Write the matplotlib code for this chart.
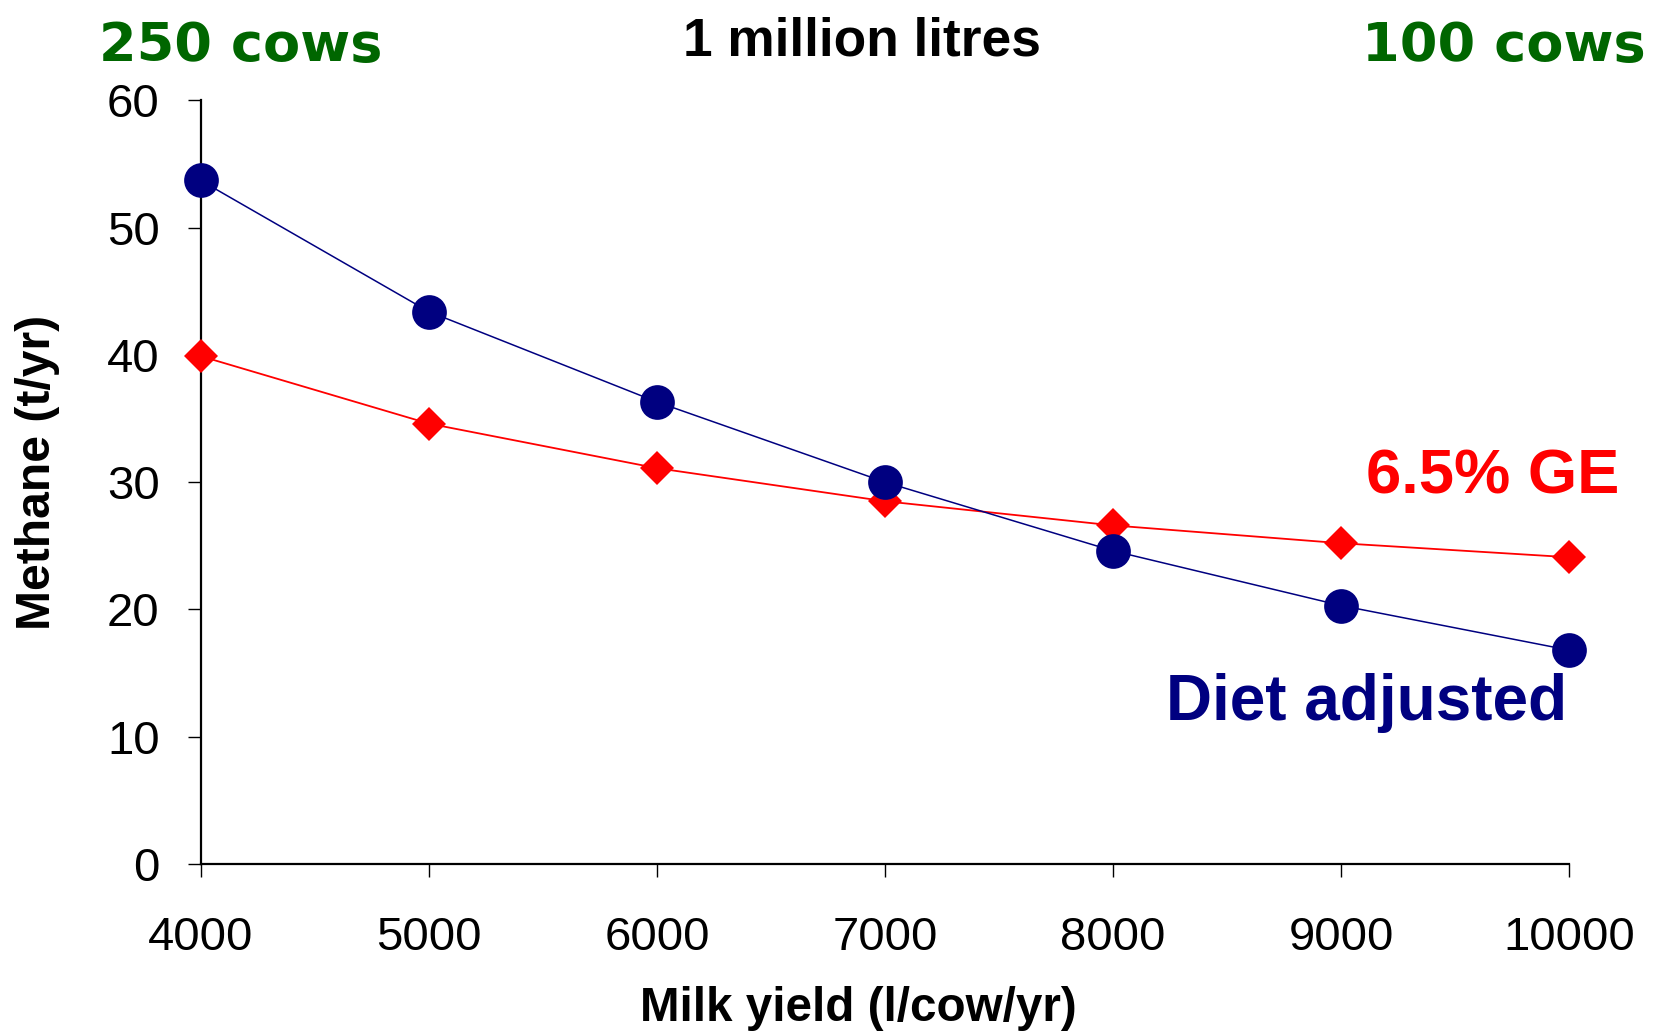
import matplotlib
matplotlib.use("Agg")
import matplotlib.pyplot as plt

milk_yield = [4000, 5000, 6000, 7000, 8000, 9000, 10000]
diet_adjusted = [53.7, 43.4, 36.3, 30.0, 24.6, 20.3, 16.8]
ge_65 = [39.9, 34.6, 31.1, 28.5, 26.6, 25.2, 24.1]
y_ticks = [0, 10, 20, 30, 40, 50, 60]

plt.rcParams['font.family'] = ['Liberation Sans', 'DejaVu Sans']

W, H = 1656, 1034
fig = plt.figure(figsize=(W / 100, H / 100), dpi=100)
left, right, top, bottom = 200.7, 1569.4, 100.3, 864.0
ax = fig.add_axes([left / W, 1 - bottom / H, (right - left) / W, (bottom - top) / H])

navy = '#000080'
red = '#FF0000'
green = '#006600'

ax.plot(milk_yield, ge_65, color=red, lw=1.3, marker='D', markersize=17.5,
        markeredgewidth=0, zorder=3, clip_on=False)
ax.plot(milk_yield, diet_adjusted, color=navy, lw=1.1, marker='o', markersize=25,
        markeredgewidth=0, zorder=4, clip_on=False)

ax.set_xlim(4000, 10000)
ax.set_ylim(0, 60)
ax.set_xticks(milk_yield)
ax.set_yticks(y_ticks)
ax.set_xticklabels([str(v) for v in milk_yield])
ax.set_yticklabels([str(v) for v in y_ticks])

for s in ['top', 'right']:
    ax.spines[s].set_visible(False)
for s in ['left', 'bottom']:
    ax.spines[s].set_linewidth(1.6)

ax.tick_params(axis='x', direction='out', length=9.5, width=1, labelsize=34, pad=28)
ax.tick_params(axis='y', direction='out', length=9.5, width=1, labelsize=34, pad=20)

ax.set_xlabel('Milk yield (l/cow/yr)', fontsize=34.3, fontweight='bold')
ax.xaxis.set_label_coords(0.4807, -0.189)
ax.xaxis.label.set_va('center')
ax.set_ylabel('Methane (t/yr)', fontsize=34.6, fontweight='bold')
ax.yaxis.set_label_coords(-0.1196, 0.513)
ax.yaxis.label.set_va('center')

def ft(x, y, s, **kw):
    fig.text(x / W, 1 - y / H, s, **kw)

ft(241, 61, '250 cows', ha='center', va='baseline', fontsize=39, fontweight='bold',
   color=green, family=['DejaVu Sans'])
ft(1504, 61, '100 cows', ha='center', va='baseline', fontsize=39, fontweight='bold',
   color=green, family=['DejaVu Sans'])
ft(862, 56, '1 million litres', ha='center', va='baseline', fontsize=38.3, fontweight='bold',
   color='black')
ft(1619, 494, '6.5% GE', ha='right', va='baseline', fontsize=45.5, fontweight='bold',
   color=red)
ft(1567, 720, 'Diet adjusted', ha='right', va='baseline', fontsize=46, fontweight='bold',
   color=navy)

fig.savefig('out.png', dpi=100)
